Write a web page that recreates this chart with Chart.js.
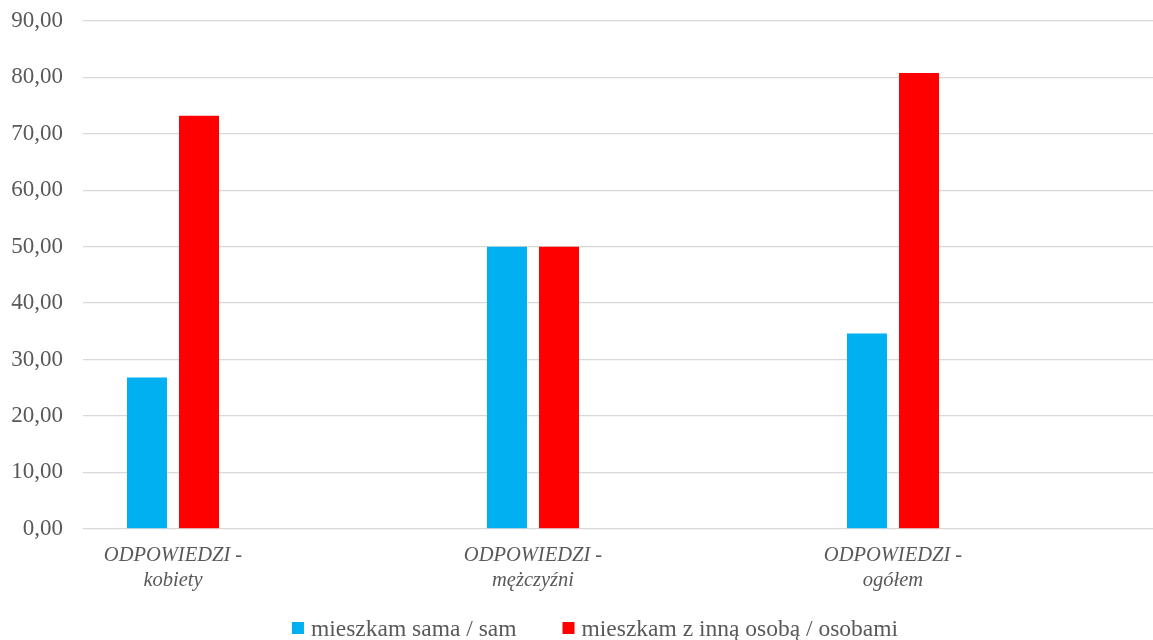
<!DOCTYPE html>
<html>
<head>
<meta charset="utf-8">
<script src="https://cdn.jsdelivr.net/npm/chart.js@4.4.1/dist/chart.umd.min.js"></script>
<style>
  html, body { margin: 0; padding: 0; background: #fff; overflow: hidden; }
  #wrap { position: relative; width: 1190px; height: 640px; }
</style>
</head>
<body>
<div id="wrap"><canvas id="c"></canvas></div>
<script>
// Categories (empty spacer categories between the labelled groups, as in the original layout)
const categories = [
  ['ODPOWIEDZI -', 'kobiety'], '',
  ['ODPOWIEDZI -', 'mężczyźni'], '',
  ['ODPOWIEDZI -', 'ogółem'], ''
];
const seriesNames = ['mieszkam sama / sam', 'mieszkam z inną osobą / osobami'];
const aloneValues = [26.8, null, 50.0, null, 34.6, null];
const withOthersValues = [73.2, null, 50.0, null, 80.8, null];
const yTicks = { min: 0, max: 90, step: 10 };

const fontFamily = '"Liberation Serif", "Times New Roman", serif';
const textColor = '#595959';

const bottomLegend = {
  id: 'bottomLegend',
  afterDraw(chart) {
    const ctx = chart.ctx;
    ctx.save();
    ctx.font = '23.5px ' + fontFamily;
    const box = 12, gap = 7, spacing = 46;
    const items = chart.data.datasets.map(ds => ({
      text: ds.label, color: ds.backgroundColor, w: ctx.measureText(ds.label).width
    }));
    const total = items.reduce((s, it) => s + box + gap + it.w, 0) + spacing * (items.length - 1);
    let x = (chart.width - total) / 2;
    const baseY = chart.height - 4;
    const boxTop = chart.height - 18;
    ctx.textBaseline = 'alphabetic';
    ctx.textAlign = 'left';
    items.forEach(it => {
      ctx.fillStyle = it.color;
      ctx.fillRect(x, boxTop, box, box);
      ctx.fillStyle = textColor;
      ctx.fillText(it.text, x + box + gap, baseY);
      x += box + gap + it.w + spacing;
    });
    ctx.restore();
  }
};

new Chart(document.getElementById('c'), {
  type: 'bar',
  data: {
    labels: categories,
    datasets: [
      { label: seriesNames[0], data: aloneValues, backgroundColor: '#00B0F0',
        categoryPercentage: 0.578, barPercentage: 0.769 },
      { label: seriesNames[1], data: withOthersValues, backgroundColor: '#FF0000',
        categoryPercentage: 0.578, barPercentage: 0.769 }
    ]
  },
  plugins: [bottomLegend],
  options: {
    responsive: true,
    maintainAspectRatio: false,
    animation: false,
    layout: { padding: { left: 0, right: 27, top: 21, bottom: 40 } },
    plugins: {
      tooltip: { enabled: false },
      legend: { display: false }
    },
    scales: {
      x: {
        grid: { display: false },
        border: { display: false },
        ticks: {
          autoSkip: false, maxRotation: 0,
          font: { family: fontFamily, size: 20.5, style: 'italic', lineHeight: 1.2 },
          color: textColor, padding: 7
        }
      },
      y: {
        min: yTicks.min, max: yTicks.max,
        afterFit: s => { s.width = 83; s.paddingTop = 0; },
        grid: { color: '#D9D9D9', lineWidth: 1.3, drawTicks: false },
        border: { display: false },
        ticks: {
          stepSize: yTicks.step,
          font: { family: fontFamily, size: 23 },
          color: textColor, padding: 20,
          callback: v => v.toFixed(2).replace('.', ',')
        }
      }
    }
  }
});
</script>
</body>
</html>
